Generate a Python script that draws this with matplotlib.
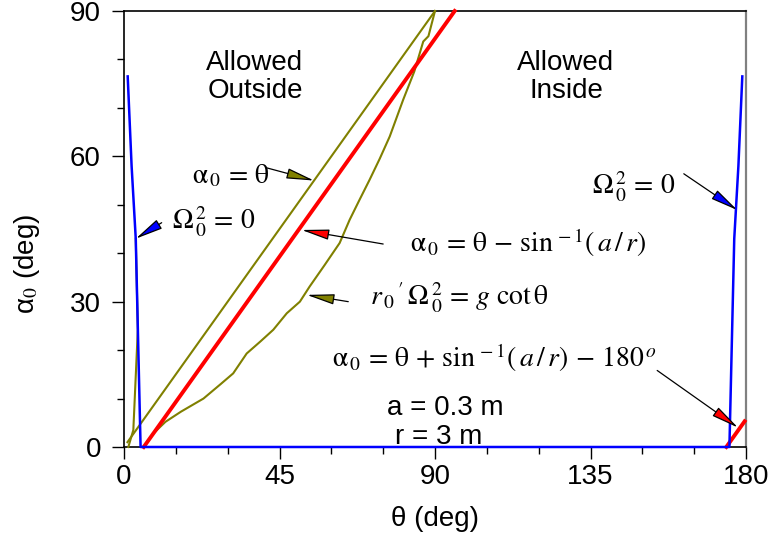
import matplotlib
matplotlib.use("Agg")
import matplotlib.pyplot as plt
from matplotlib.ticker import MultipleLocator

plt.rcParams["font.family"] = ["Liberation Sans", "DejaVu Sans"]
plt.rcParams["mathtext.fontset"] = "stix"

# Omega_0^2 = 0 (blue): left branch, floor, right branch
blue_theta = [1.07, 2.2, 3.4, 4.8, 175.2, 176.6, 177.8, 178.93]
blue_alpha = [76.5, 58.0, 43.0, 0.0, 0.0, 43.0, 58.0, 76.5]

# alpha_0 = theta - asin(a/r)   and   alpha_0 = theta + asin(a/r) - 180
red_left_theta = [5.7, 95.7]
red_left_alpha = [0.0, 90.0]
red_right_theta = [174.3, 179.6]
red_right_alpha = [0.0, 5.3]

# alpha_0 = theta
eq_theta = [1.0, 90.0]
eq_alpha = [1.0, 90.0]

# r0' Omega0^2 = g cot(theta)
cot_theta = [6.2, 8.5, 12.0, 16.5, 23.0, 28.0, 31.6, 35.5, 39.5, 43.2, 47.1,
             50.9, 53.7, 58.0, 62.4, 65.3, 68.0, 71.1, 74.0, 76.9, 80.8,
             84.0, 86.6, 88.1, 90.0]
cot_alpha = [0.5, 2.8, 5.2, 7.3, 10.0, 13.0, 15.2, 19.3, 21.8, 24.2, 27.6,
             30.0, 33.1, 37.5, 42.1, 46.9, 50.8, 55.2, 59.5, 64.1, 71.7,
             77.5, 83.7, 84.8, 90.0]
steep_theta = [1.25, 2.7, 4.0, 3.4]
steep_alpha = [0.0, 3.5, 24.2, 43.0]

fig = plt.figure(figsize=(7.72, 5.44), dpi=100)
ax = fig.add_axes([124 / 772, 97 / 544, 622 / 772, 436 / 544])

olive = "#808000"
ax.plot(eq_theta, eq_alpha, color=olive, lw=1.5, clip_on=False, zorder=3)
ax.plot(cot_theta, cot_alpha, color=olive, lw=1.5, clip_on=False, zorder=3)
ax.plot(steep_theta, steep_alpha, color=olive, lw=1.5, clip_on=False, zorder=3)
ax.plot(red_left_theta, red_left_alpha, color="#ff0000", lw=2.8, clip_on=False, zorder=4)
ax.plot(red_right_theta, red_right_alpha, color="#ff0000", lw=2.8, clip_on=False, zorder=4)
ax.plot(blue_theta, blue_alpha, color="#0000ff", lw=1.8, clip_on=False, zorder=5)

ax.set_xlim(0, 180)
ax.set_ylim(0, 90)
ax.set_xticks([0, 45, 90, 135, 180])
ax.set_yticks([0, 30, 60, 90])
ax.xaxis.set_minor_locator(MultipleLocator(15))
ax.yaxis.set_minor_locator(MultipleLocator(10))
ax.tick_params(which="major", direction="out", length=8.6, width=1, labelsize=20)
ax.tick_params(which="minor", direction="out", length=5, width=1)
ax.tick_params(axis="x", pad=4)
ax.tick_params(axis="y", pad=8)
for side in ["left", "bottom", "top"]:
    ax.spines[side].set_linewidth(1.2)
ax.spines["right"].set_color("#808080")
ax.spines["right"].set_linewidth(1.6)

ax.set_xlabel("θ (deg)", fontsize=20)
ax.xaxis.set_label_coords(0.5, -0.135)
ax.set_ylabel(r"α$_0$ (deg)", fontsize=20)
ax.yaxis.set_label_coords(-0.132, 0.42)

ax.text(37.9, 76.4, "Allowed\nOutside", fontsize=20, ha="center", va="center", linespacing=1.1)
ax.text(127.9, 76.4, "Allowed\nInside", fontsize=20, ha="center", va="center", linespacing=1.1)
ax.text(92.9, 8.1, "a = 0.3 m", fontsize=20, ha="center", va="center")
ax.text(91.0, 2.1, "r = 3 m", fontsize=20, ha="center", va="center")

labels = [
    (19.6, 56.0, r"$\mathrm{\alpha}_{\,0} \,=\, \mathrm{\theta}$"),
    (13.9, 46.4, r"$\mathrm{\Omega}^{\,2}_{\,0} \,=\, 0$"),
    (135.3, 53.7, r"$\mathrm{\Omega}^{\,2}_{\,0} \,=\, 0$"),
    (82.8, 42.1, r"$\mathrm{\alpha}_{\,0} \,=\, \mathrm{\theta} \,-\, \mathrm{sin}^{\,-1}(\,a\,/\,r)$"),
    (71.2, 30.8, r"$r_{\,0}\,'\,\mathrm{\Omega}^{\,2}_{\,0} \,=\, g\ \mathrm{cot}\,\mathrm{\theta}$"),
    (60.1, 18.4, r"$\mathrm{\alpha}_{\,0} \,=\, \mathrm{\theta} \,+\, \mathrm{sin}^{\,-1}(\,a\,/\,r) \,-\, 180^{\,o}$"),
]
for x, y, s in labels:
    ax.text(x, y, s, fontsize=20, ha="left", va="center")

# arrows: (tip, tail, head colour)
arrows = [
    ((55.0, 55.0), (41.4, 57.6), olive),
    ((3.4, 43.0), (10.9, 46.3), "#0000ff"),
    ((177.5, 48.9), (162.0, 56.4), "#0000ff"),
    ((51.4, 44.8), (75.0, 41.9), "#ff0000"),
    ((52.9, 31.4), (64.9, 30.0), olive),
    ((177.7, 4.0), (154.3, 15.8), "#ff0000"),
]
for tip, tail, c in arrows:
    ax.annotate("", xy=tip, xytext=tail, annotation_clip=False,
                arrowprops=dict(arrowstyle="-|>,head_length=0.85,head_width=0.16",
                                fc=c, ec="black", lw=0.9, shrinkA=0, shrinkB=0,
                                mutation_scale=20), zorder=6)

fig.savefig("out.png", dpi=100)
